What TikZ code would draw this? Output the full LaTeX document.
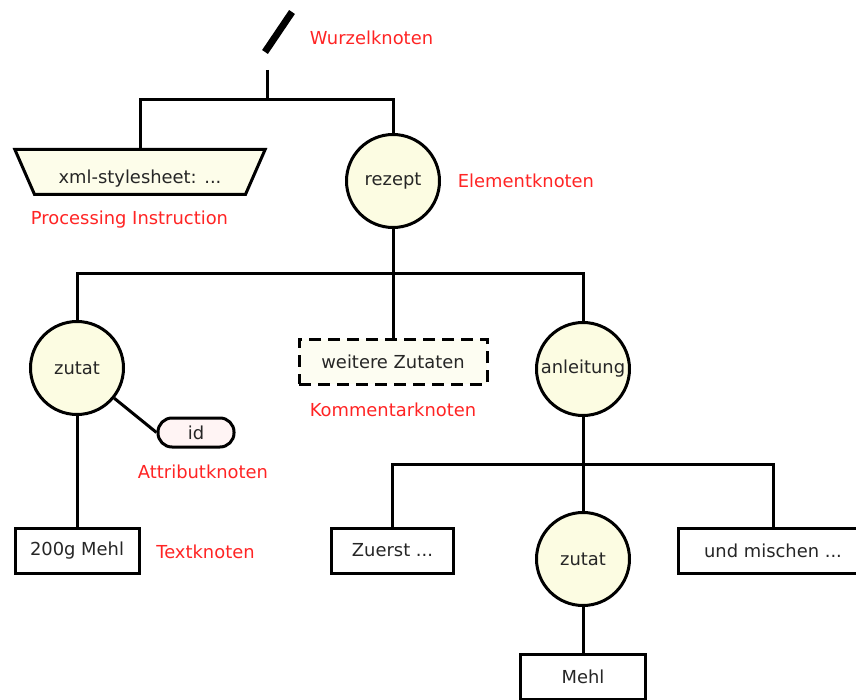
\documentclass[tikz,border=0pt]{standalone}
\usepackage{fontspec}
\setmainfont{DejaVu Sans}
\usepackage{tikz}
\usetikzlibrary{shapes.geometric}
\definecolor{knotengelb}{HTML}{FCFCE2}
\definecolor{pigelb}{HTML}{FDFDEA}
\definecolor{kommentargelb}{HTML}{FDFDF2}
\definecolor{attrrosa}{HTML}{FFF4F4}
\definecolor{hinweisrot}{HTML}{FF2424}
\definecolor{schrift}{HTML}{262626}
\tikzstyle{kante} = [draw, line width=3pt]
\tikzstyle{element} = [draw, circle, line width=3pt, fill=knotengelb, minimum size=93pt, inner sep=0pt]
\tikzstyle{textknoten} = [draw, rectangle, line width=3pt, fill=white, minimum height=45pt]
\tikzstyle{pi} = [draw, trapezium, trapezium stretches=true, trapezium left angle=123.4, trapezium right angle=123.4, line width=3pt, fill=pigelb, minimum width=251pt, minimum height=45pt]
\tikzstyle{kommentar} = [draw, rectangle, line width=3pt, dash pattern=on 12pt off 7pt, fill=kommentargelb, minimum width=188pt, minimum height=45pt]
\tikzstyle{attribut} = [draw, rectangle, rounded corners=14pt, line width=3pt, fill=attrrosa, minimum width=76pt, minimum height=29pt]
\tikzstyle{hinweis} = [text=hinweisrot]

\begin{document}
\begin{tikzpicture}[x=1pt,y=-1pt]
	\tikzstyle{every node}=[font=\fontsize{17.9pt}{20pt}\selectfont, text=schrift]
	\useasboundingbox (0,0) rectangle (856,700);
	
	% ------------------- Wurzel ------------------- %
	\draw[line width=7pt] (265,52) -- (292,12);
	\coordinate (root) at (267,70);
	\coordinate (bar1) at (0,100);
	\coordinate (bar2) at (0,274);
	\coordinate (bar3) at (0,464);
	
	% ------------------- Knoten ------------------- %
	\node[pi] (xmlpi) at (140,172) {\raisebox{-7pt}[\height][\depth]{xml-stylesheet: ...}};
	\node[element] (rezept) at (393,181) {rezept};
	
	\node[element] (zutat) at (77,368) {zutat};
	\node[kommentar] (weitere) at (393,361.5) {weitere Zutaten};
	\node[element] (anleitung) at (583,369) {anleitung};
	\node[attribut] (id) at (196,432.5) {id};
	
	\node[textknoten, minimum width=124pt] (mehla) at (77,550.5) {200g Mehl};
	\node[textknoten, minimum width=122pt] (zuerst) at (392.5,550.5) {Zuerst ...};
	\node[element] (zutatb) at (583,559) {zutat};
	\node[textknoten, minimum width=190pt] (mischen) at (773,551) {und mischen ...};
	\node[textknoten, minimum width=125pt] (mehlb) at (583,676.5) {Mehl};
	
	% ------------------- Kanten ------------------- %
	\draw[kante] (root) -- (root |- bar1);
	\draw[kante] (xmlpi.north) -- (xmlpi.north |- bar1) -- (rezept.north |- bar1) -- (rezept.north);
	\draw[kante] (rezept.south) -- (weitere.north);
	\draw[kante] (zutat.north) -- (zutat.north |- bar2) -- (anleitung.north |- bar2) -- (anleitung.north);
	\draw[kante] (zutat) -- (id.west);
	\draw[kante] (zutat.south) -- (mehla.north);
	\draw[kante] (anleitung.south) -- (zutatb.north);
	\draw[kante] (zuerst.north) -- (zuerst.north |- bar3) -- (mischen.north |- bar3) -- (mischen.north);
	\draw[kante] (zutatb.south) -- (mehlb.north);
	
	% ------------------- Beschriftungen ------------------- %
	\node[hinweis] (lwurzel) at (371.5,38) {Wurzelknoten};
	\node[hinweis] (lpi) at (129.5,220) {Processing Instruction};
	\node[hinweis] (lelement) at (526,181) {Elementknoten};
	\node[hinweis] (lkommentar) at (393,410) {Kommentarknoten};
	\node[hinweis] (lattribut) at (203,472) {Attributknoten};
	\node[hinweis] (ltext) at (205.5,552) {Textknoten};
	
\end{tikzpicture}
\end{document}
